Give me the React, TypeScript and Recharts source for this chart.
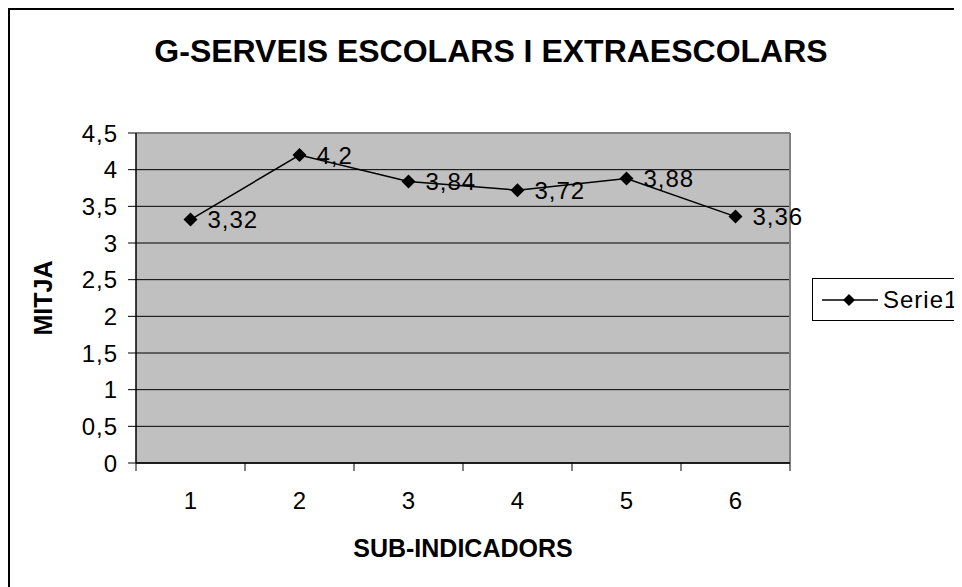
import {
  LineChart,
  Line,
  XAxis,
  YAxis,
  CartesianGrid,
  Legend,
  LabelList,
  ReferenceLine,
  Customized,
} from "recharts";

const categories = [1, 2, 3, 4, 5, 6];
const serie1 = [3.32, 4.2, 3.84, 3.72, 3.88, 3.36];
const yTicks = [0, 0.5, 1, 1.5, 2, 2.5, 3, 3.5, 4, 4.5];
// half steps are the category boundaries (tick marks), whole numbers the labels
const xTicks = [0.5, 1, 1.5, 2, 2.5, 3, 3.5, 4, 4.5, 5, 5.5, 6, 6.5];

const data = categories.map((c, i) => ({ sub: c, Serie1: serie1[i] }));

const FONT = '"Liberation Sans", Arial, sans-serif';
const comma = (v: number | string) => String(v).replace(".", ",");

const Diamond = (props: any) => {
  const { cx, cy } = props;
  if (cx == null || cy == null) return null;
  const r = 7;
  return (
    <polygon
      points={`${cx},${cy - r} ${cx + r},${cy} ${cx},${cy + r} ${cx - r},${cy}`}
      fill="#000"
    />
  );
};

const XTick = (props: any) => {
  const { x, y, payload } = props;
  if (Number.isInteger(payload.value)) {
    return (
      <text x={x} y={y + 46} textAnchor="middle" fontSize={24} fontFamily={FONT} fill="#000">
        {payload.value}
      </text>
    );
  }
  return <line x1={x} x2={x} y1={y} y2={y + 8} stroke="#000" />;
};

const LegendBox = () => (
  <div
    style={{
      width: 170,
      height: 43,
      border: "1px solid #000",
      boxSizing: "border-box",
      background: "#fff",
      display: "flex",
      alignItems: "center",
      fontFamily: FONT,
      fontSize: 24,
    }}
  >
    <svg width={70} height={20} style={{ marginLeft: 9 }}>
      <line x1={0} x2={56} y1={10} y2={10} stroke="#000" strokeWidth={1.5} />
      <polygon points="27,4 33,10 27,16 21,10" fill="#000" />
    </svg>
    <span style={{ marginLeft: -9, letterSpacing: 1 }}>Serie1</span>
  </div>
);

const Titles = () => (
  <g fontFamily={FONT} fontWeight="bold" fill="#000">
    <text x={483} y={54} textAnchor="middle" fontSize={32}>
      G-SERVEIS ESCOLARS I EXTRAESCOLARS
    </text>
    <text x={455} y={549} textAnchor="middle" fontSize={25}>
      SUB-INDICADORS
    </text>
    <text x={44} y={290} textAnchor="middle" fontSize={25} transform="rotate(-90 44 290)">
      MITJA
    </text>
  </g>
);

export default function App() {
  return (
    <div style={{ position: "relative", width: 954, height: 579, overflow: "hidden" }}>
      <div
        style={{
          position: "absolute",
          left: 0,
          top: 0,
          width: 2000,
          height: 2000,
          border: "2px solid #000",
        }}
      />
      <LineChart
        width={954}
        height={579}
        data={data}
        margin={{ top: 125, right: 172, bottom: 0, left: 0 }}
      >
        <CartesianGrid vertical={false} fill="#C0C0C0" stroke="#000" fillOpacity={1} />
        <XAxis
          dataKey="sub"
          type="number"
          domain={[0.5, 6.5]}
          ticks={xTicks}
          interval={0}
          height={124}
          tickSize={0}
          tickMargin={0}
          tickLine={false}
          tick={<XTick />}
          axisLine={{ stroke: "#000", strokeWidth: 1.5 }}
        />
        <YAxis
          domain={[0, 4.5]}
          ticks={yTicks}
          interval={0}
          width={128}
          tickSize={8}
          tickMargin={10}
          tickFormatter={comma}
          tick={{ fill: "#000", fontSize: 24, fontFamily: FONT, letterSpacing: 1 }}
          tickLine={{ stroke: "#000" }}
          axisLine={{ stroke: "#000", strokeWidth: 1.5 }}
        />
        <ReferenceLine y={4.5} stroke="#808080" strokeWidth={2} />
        <ReferenceLine x={6.5} stroke="#808080" strokeWidth={2} />
        <Legend
          content={<LegendBox />}
          wrapperStyle={{ left: 804, top: 270, width: 0, height: 0 }}
        />
        <Line
          dataKey="Serie1"
          stroke="#000"
          strokeWidth={1.5}
          dot={<Diamond />}
          activeDot={false}
          isAnimationActive={false}
        >
          <LabelList
            dataKey="Serie1"
            position="right"
            offset={17}
            formatter={comma}
            fill="#000"
            fontSize={24}
            fontFamily={FONT}
            style={{ letterSpacing: 1 }}
          />
        </Line>
        <Customized component={Titles} />
      </LineChart>
    </div>
  );
}
